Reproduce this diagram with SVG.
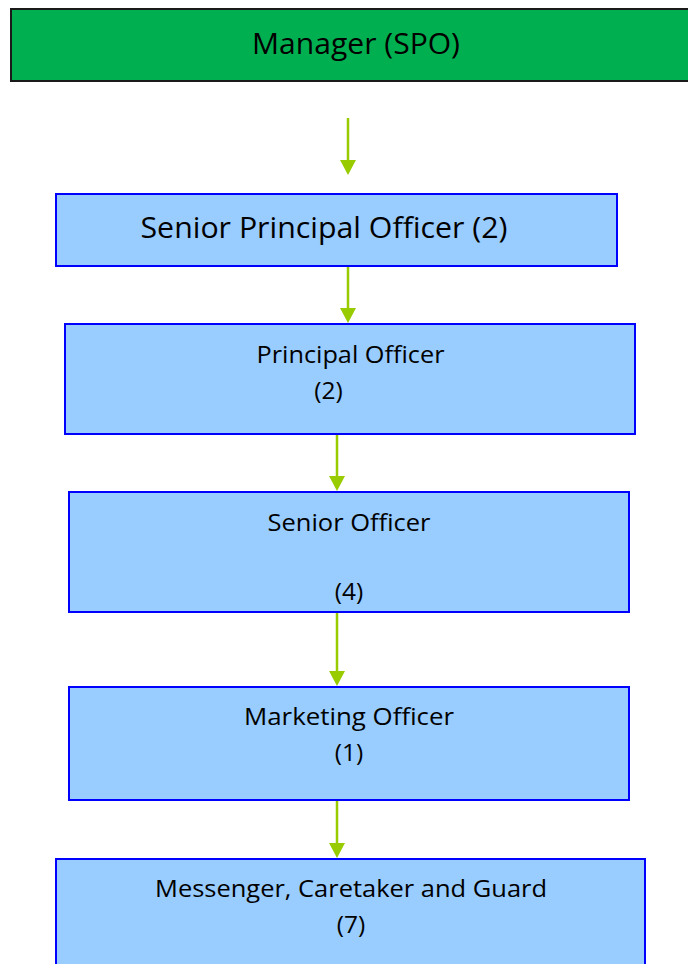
<svg xmlns="http://www.w3.org/2000/svg" width="688" height="964" viewBox="0 0 688 964">
  <style>
    .box { fill: #99CCFF; stroke: #0000FF; stroke-width: 2; }
    .top { fill: #00B050; stroke: #1a1a1a; stroke-width: 2; }
    .big { font-family: "Open Sans", "Noto Sans", sans-serif; font-size: 29.5px; fill: #000; text-anchor: middle; }
    .lbl { font-family: "Open Sans", "Noto Sans", sans-serif; font-size: 24.5px; fill: #000; text-anchor: middle; }
    .conn { stroke: #99CC00; stroke-width: 2.5; fill: none; }
  </style>
  <defs>
    <marker id="arrow" markerUnits="userSpaceOnUse" markerWidth="16" markerHeight="16" viewBox="0 0 15 16" refX="5" refY="8" orient="auto">
      <path d="M0,0 L15,8 L0,16 z" fill="#99CC00"/>
    </marker>
  </defs>
  <rect width="688" height="964" fill="#ffffff"/>

  <g id="connectors">
    <line class="conn" x1="348" y1="118" x2="348" y2="165" marker-end="url(#arrow)"/>
    <line class="conn" x1="348" y1="267" x2="348" y2="313" marker-end="url(#arrow)"/>
    <line class="conn" x1="337" y1="435" x2="337" y2="481" marker-end="url(#arrow)"/>
    <line class="conn" x1="337" y1="613" x2="337" y2="676" marker-end="url(#arrow)"/>
    <line class="conn" x1="337" y1="801" x2="337" y2="848" marker-end="url(#arrow)"/>
  </g>

  <g id="manager">
    <rect class="top" x="11" y="9" width="690" height="72"/>
    <text class="big" x="356" y="54" textLength="208" lengthAdjust="spacingAndGlyphs">Manager (SPO)</text>
  </g>

  <g id="senior-principal-officer">
    <rect class="box" x="56" y="194" width="561" height="72"/>
    <text class="big" x="324" y="238" textLength="367" lengthAdjust="spacingAndGlyphs">Senior Principal Officer (2)</text>
  </g>

  <g id="principal-officer">
    <rect class="box" x="65" y="324" width="570" height="110"/>
    <text class="lbl" x="350.5" y="363" textLength="188" lengthAdjust="spacingAndGlyphs">Principal Officer</text>
    <text class="lbl" x="328.5" y="399">(2)</text>
  </g>

  <g id="senior-officer">
    <rect class="box" x="69" y="492" width="560" height="120"/>
    <text class="lbl" x="349" y="531" textLength="163" lengthAdjust="spacingAndGlyphs">Senior Officer</text>
    <text class="lbl" x="349" y="600">(4)</text>
  </g>

  <g id="marketing-officer">
    <rect class="box" x="69" y="687" width="560" height="113"/>
    <text class="lbl" x="349" y="725" textLength="210" lengthAdjust="spacingAndGlyphs">Marketing Officer</text>
    <text class="lbl" x="349" y="761">(1)</text>
  </g>

  <g id="messenger-caretaker-guard">
    <rect class="box" x="56" y="859" width="589" height="130"/>
    <text class="lbl" x="351" y="897" textLength="392" lengthAdjust="spacingAndGlyphs">Messenger, Caretaker and Guard</text>
    <text class="lbl" x="351" y="933">(7)</text>
  </g>
</svg>
